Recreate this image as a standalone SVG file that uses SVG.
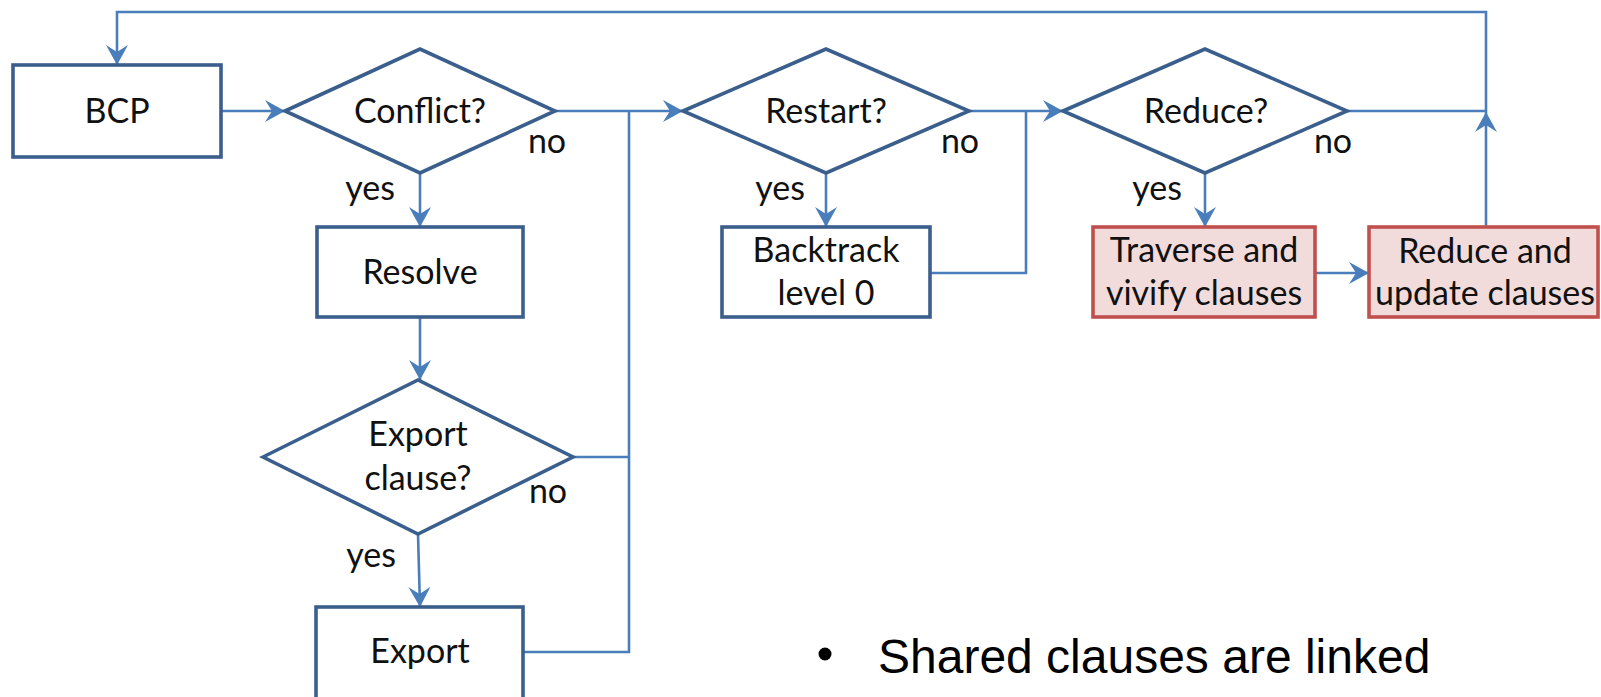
<svg xmlns="http://www.w3.org/2000/svg" width="1601" height="697" viewBox="0 0 1601 697">
  <style>
    .box { fill: #ffffff; stroke: #3b5f8c; stroke-width: 3.6; }
    .hot { fill: #f2dcdb; stroke: #c0504d; stroke-width: 3.6; }
    .dec { fill: #ffffff; stroke: #3b5f8c; stroke-width: 3.6; stroke-linejoin: miter; }
    .lbl { font-family: Lato, "Open Sans", sans-serif; font-size: 34px; fill: #111111; text-anchor: middle; }
    .ans { font-family: Lato, "Open Sans", sans-serif; font-size: 34px; fill: #111111; text-anchor: middle; }
    .wire { fill: none; stroke: #4a7ebb; stroke-width: 2.6; }
    .note { font-family: "Liberation Sans", Arial, sans-serif; font-size: 48px; fill: #000000; }
  </style>
  <defs>
    <marker id="head" markerUnits="userSpaceOnUse" markerWidth="24" markerHeight="26" refX="22" refY="12" orient="auto" viewBox="0 0 24 24">
      <path d="M22,12 L2,1 L9,12 L2,23 Z" fill="#4a7ebb"/>
    </marker>
  </defs>

  <rect width="1601" height="697" fill="#ffffff"/>

  <!-- connectors -->
  <g id="connectors">
    <line class="wire" x1="221" y1="111" x2="285" y2="111" marker-end="url(#head)"/>
    <line class="wire" x1="555" y1="111" x2="683" y2="111" marker-end="url(#head)"/>
    <line class="wire" x1="969" y1="111" x2="1063" y2="111" marker-end="url(#head)"/>
    <polyline class="wire" points="1347,111 1486,111 1486,12 117,12 117,65" marker-end="url(#head)"/>
    <line class="wire" x1="1486" y1="227" x2="1486" y2="112" marker-end="url(#head)"/>
    <line class="wire" x1="420" y1="173" x2="420" y2="227" marker-end="url(#head)"/>
    <line class="wire" x1="420" y1="317" x2="420" y2="380" marker-end="url(#head)"/>
    <line class="wire" x1="418" y1="534" x2="420" y2="607" marker-end="url(#head)"/>
    <polyline class="wire" points="523,652 629,652 629,111"/>
    <line class="wire" x1="573" y1="457" x2="629" y2="457"/>
    <line class="wire" x1="826" y1="173" x2="826" y2="227" marker-end="url(#head)"/>
    <polyline class="wire" points="930,273 1026,273 1026,111"/>
    <line class="wire" x1="1205" y1="173" x2="1205" y2="227" marker-end="url(#head)"/>
    <line class="wire" x1="1315" y1="273" x2="1369" y2="273" marker-end="url(#head)"/>
  </g>

  <!-- branch labels -->
  <g id="branch-labels">
    <text class="ans" x="547" y="153">no</text>
    <text class="ans" x="960" y="153">no</text>
    <text class="ans" x="1333" y="153">no</text>
    <text class="ans" x="548" y="503">no</text>
    <text class="ans" x="370" y="200">yes</text>
    <text class="ans" x="780" y="200">yes</text>
    <text class="ans" x="1157" y="200">yes</text>
    <text class="ans" x="371" y="567">yes</text>
  </g>

  <g id="bcp">
    <rect class="box" x="13" y="65" width="208" height="92"/>
    <text class="lbl" x="117" y="123">BCP</text>
  </g>

  <g id="conflict">
    <polygon class="dec" points="285,111 420,49 555,111 420,173"/>
    <text class="lbl" x="420" y="123">Conflict?</text>
  </g>

  <g id="resolve">
    <rect class="box" x="317" y="227" width="206" height="90"/>
    <text class="lbl" x="420" y="284">Resolve</text>
  </g>

  <g id="export-clause">
    <polygon class="dec" points="263,457 418,380 573,457 418,534"/>
    <text class="lbl" x="418" y="446">Export</text>
    <text class="lbl" x="418" y="490">clause?</text>
  </g>

  <g id="export">
    <rect class="box" x="316" y="607" width="207" height="93"/>
    <text class="lbl" x="420" y="663">Export</text>
  </g>

  <g id="restart">
    <polygon class="dec" points="683,111 826,49 969,111 826,173"/>
    <text class="lbl" x="826" y="123">Restart?</text>
  </g>

  <g id="backtrack">
    <rect class="box" x="722" y="227" width="208" height="90"/>
    <text class="lbl" x="826" y="262">Backtrack</text>
    <text class="lbl" x="826" y="305">level 0</text>
  </g>

  <g id="reduce">
    <polygon class="dec" points="1063,111 1205,49 1347,111 1205,173"/>
    <text class="lbl" x="1206" y="123">Reduce?</text>
  </g>

  <g id="traverse">
    <rect class="hot" x="1093" y="227" width="222" height="90"/>
    <text class="lbl" x="1204" y="262">Traverse and</text>
    <text class="lbl" x="1204" y="305">vivify clauses</text>
  </g>

  <g id="reduce-update">
    <rect class="hot" x="1369" y="227" width="229" height="90"/>
    <text class="lbl" x="1485" y="263">Reduce and</text>
    <text class="lbl" x="1485" y="305">update clauses</text>
  </g>

  <g id="note">
    <circle cx="825" cy="654" r="6.5" fill="#000000"/>
    <text class="note" x="878" y="673">Shared clauses are linked</text>
  </g>
</svg>
